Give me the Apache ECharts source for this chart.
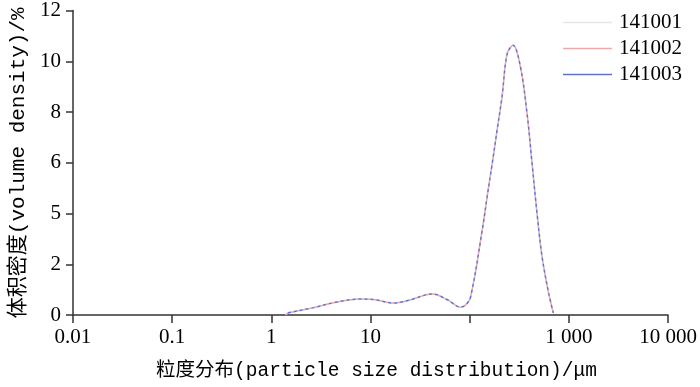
<!DOCTYPE html>
<html>
<head>
<meta charset="utf-8">
<script src="https://cdn.jsdelivr.net/npm/echarts@6/dist/echarts.min.js"></script>
<style>html,body{margin:0;padding:0;background:#fff}#c{width:700px;height:387px}</style>
</head>
<body>
<div id="c"></div>
<script>
// particle size (μm) sample points
const sizes = [1.4, 1.45, 2.67, 4.45, 7.9, 11.2, 17.1, 25.3, 42, 59.7, 81, 91, 102, 134, 150, 169, 189, 212, 239, 274, 325, 379, 426, 478, 537, 626, 698];
// volume density (%) for each sample
const density141001 = [0, 0.07, 0.29, 0.5, 0.63, 0.6, 0.47, 0.6, 0.83, 0.6, 0.31, 0.4, 0.7, 3.35, 4.66, 5.98, 7.28, 8.6, 10.3, 10.63, 9.78, 7.94, 5.97, 4.0, 2.3, 0.86, 0.08];
const density141002 = [0, 0.07, 0.29, 0.5, 0.63, 0.6, 0.47, 0.6, 0.83, 0.6, 0.31, 0.4, 0.7, 3.35, 4.66, 5.98, 7.28, 8.6, 10.3, 10.63, 9.78, 7.94, 5.97, 4.0, 2.3, 0.86, 0.08];
const density141003 = [0, 0.07, 0.29, 0.5, 0.63, 0.6, 0.47, 0.6, 0.83, 0.6, 0.31, 0.4, 0.7, 3.35, 4.66, 5.98, 7.28, 8.6, 10.3, 10.63, 9.78, 7.94, 5.97, 4.0, 2.3, 0.86, 0.08];
const seriesNames = ['141001', '141002', '141003'];
// tick labels
const xTickLabels = ['0.01', '0.1', '1', '10', '', '1 000', '10 000']; // decades 10^-2 .. 10^4
const yTickLabels = ['0', '2', '5', '6', '8', '10', '12'];

const pairs = arr => sizes.map((s, i) => [s, arr[i]]);
const tickFont = 'Liberation Serif';
const nameFont = 'Liberation Mono, Noto Sans CJK SC';

const chart = echarts.init(document.getElementById('c'), null, {renderer: 'canvas'});
chart.setOption({
  animation: false,
  backgroundColor: '#fff',
  grid: {left: 72, right: 32, top: 10, bottom: 72, containLabel: false},
  legend: {
    orient: 'vertical', right: 13, top: 7,
    icon: 'rect',
    itemWidth: 49, itemHeight: 1.3, itemGap: 5,
    textStyle: {fontFamily: tickFont, fontSize: 21, color: '#000', padding: [0, 0, 0, 2]},
    data: seriesNames
  },
  xAxis: {
    type: 'log', logBase: 10, min: 0.01, max: 10000,
    name: '粒度分布(particle size distribution)/μm',
    nameLocation: 'middle', nameGap: 46,
    nameTextStyle: {fontFamily: nameFont, fontSize: 19.5, color: '#000', padding: [0, 0, 0, 12]},
    axisLine: {lineStyle: {color: '#333', width: 1.5}},
    axisTick: {length: 8, lineStyle: {color: '#333', width: 1.5}},
    axisLabel: {
      margin: 12, fontFamily: tickFont, fontSize: 21, color: '#000',
      formatter: v => { const i = Math.round(Math.log10(v)) + 2; return xTickLabels[i] ?? ''; }
    },
    splitLine: {show: false}
  },
  yAxis: {
    type: 'value', min: 0, max: 12, interval: 2,
    name: '体积密度(volume density)/%',
    nameLocation: 'middle', nameGap: 44,
    nameTextStyle: {fontFamily: nameFont, fontSize: 21, color: '#000'},
    axisLine: {show: true, lineStyle: {color: '#333', width: 1.5}},
    axisTick: {show: true, length: 7, lineStyle: {color: '#333', width: 1.5}},
    axisLabel: {
      margin: 12, fontFamily: tickFont, fontSize: 21, color: '#000',
      formatter: v => yTickLabels[Math.round(v / 2)] ?? ''
    },
    splitLine: {show: false}
  },
  series: [
    {name: seriesNames[0], type: 'line', smooth: 0.35, symbol: 'none', data: pairs(density141001),
     lineStyle: {color: '#e6e6e6', width: 1.5}, itemStyle: {color: '#e6e6e6'}},
    {name: seriesNames[1], type: 'line', smooth: 0.35, symbol: 'none', data: pairs(density141002),
     lineStyle: {color: '#f2a8a8', width: 1.5, type: [3, 3]}, itemStyle: {color: '#f2a8a8'}},
    {name: seriesNames[2], type: 'line', smooth: 0.35, symbol: 'none', data: pairs(density141003),
     lineStyle: {color: '#5f72d2', width: 1.5, type: [3, 3], dashOffset: 3}, itemStyle: {color: '#5f72d2'}}
  ]
});
</script>
</body>
</html>
